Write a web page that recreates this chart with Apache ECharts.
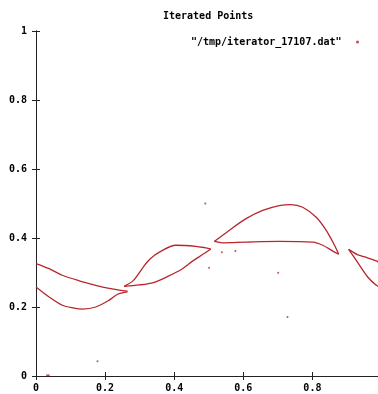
<!DOCTYPE html>
<html>
<head>
    <meta charset="utf-8">
    <title>Iterated Points</title>
    <script src="https://cdn.jsdelivr.net/npm/echarts@6.0.0/dist/echarts.min.js"></script>
    <style>
        html, body { margin: 0; padding: 0; width: 100%; height: 100%; background: #fff; }
        #chart { width: 378px; height: 394px; }
    </style>
</head>
<body>
    <div id="chart"></div>
    <script>
        // points, one array per visible branch
        const curveA = [[0, 0.326], [0.038, 0.311], [0.076, 0.292], [0.125, 0.276], [0.173, 0.263], [0.212, 0.254], [0.241, 0.249], [0.265, 0.246]];
        const curveB = [[0, 0.258], [0.038, 0.229], [0.076, 0.205], [0.110, 0.197], [0.134, 0.194], [0.173, 0.200], [0.212, 0.220], [0.236, 0.237], [0.265, 0.244]];
        const lensCUpper = [[0.255, 0.260], [0.280, 0.275], [0.296, 0.295], [0.312, 0.318], [0.330, 0.339], [0.357, 0.359], [0.405, 0.379], [0.463, 0.376], [0.488, 0.372], [0.506, 0.368]];
        const lensCLower = [[0.255, 0.260], [0.299, 0.264], [0.340, 0.271], [0.380, 0.288], [0.424, 0.311], [0.453, 0.333], [0.482, 0.352], [0.506, 0.368]];
        const lensDUpper = [[0.516, 0.390], [0.559, 0.422], [0.608, 0.456], [0.656, 0.480], [0.704, 0.494], [0.738, 0.497], [0.772, 0.489], [0.811, 0.460], [0.840, 0.422], [0.864, 0.379], [0.876, 0.353]];
        const lensDLower = [[0.516, 0.390], [0.540, 0.386], [0.608, 0.388], [0.704, 0.390], [0.801, 0.388], [0.830, 0.379], [0.859, 0.362], [0.876, 0.353]];
        const lensEUpper = [[0.905, 0.367], [0.930, 0.352], [0.956, 0.344], [0.988, 0.332], [1, 0.328]];
        const lensELower = [[0.905, 0.367], [0.927, 0.335], [0.960, 0.287], [0.985, 0.263], [1, 0.255]];
        const strayPoints = [[0.49, 0.50], [0.501, 0.314], [0.538, 0.359], [0.577, 0.362], [0.701, 0.299], [0.728, 0.171], [0.178, 0.043], [0.032, 0.002], [0.037, 0.002]];

        const seriesName = '"/tmp/iterator_17107.dat"';
        const red = '#b8262c';
        const font = 'DejaVu Sans Mono';

        const chart = echarts.init(document.getElementById('chart'), null, { renderer: 'canvas' });

        const branch = (data) => ({
            name: seriesName,
            type: 'line',
            smooth: 0.3,
            showSymbol: false,
            data: data,
            lineStyle: { color: red, width: 1.3 },
            itemStyle: { color: red },
            animation: false
        });

        const axisBase = {
            type: 'value',
            min: 0,
            max: 1,
            interval: 0.2,
            axisLine: { show: true, lineStyle: { color: '#222', width: 1 } },
            axisTick: { show: true, inside: true, length: 4, lineStyle: { color: '#222' } },
            splitLine: { show: false }
        };

        const fmt = (v) => (v === 0 ? '0' : v === 1 ? '1' : v.toFixed(1));

        chart.setOption({
            backgroundColor: '#fff',
            title: {
                text: 'Iterated Points',
                left: 158,
                top: 6,
                textStyle: { fontFamily: font, fontSize: 10, fontWeight: 'bold', color: '#000' }
            },
            legend: {
                data: [seriesName],
                left: 186,
                top: 32,
                align: 'right',
                icon: 'circle',
                itemWidth: 22,
                itemHeight: 3,
                textStyle: { fontFamily: font, fontSize: 10, fontWeight: 'bold', color: '#000' }
            },
            // plot box runs a few pixels past the right edge of the picture
            grid: { left: 36, top: 31, width: 345.5, height: 345, outerBoundsMode: 'none' },
            xAxis: [
                Object.assign({}, axisBase, {
                    position: 'bottom',
                    axisLabel: { margin: 7, fontFamily: font, fontSize: 10, fontWeight: 'bold', color: '#000', formatter: fmt }
                }),
                Object.assign({}, axisBase, { position: 'top', axisLabel: { show: false } })
            ],
            yAxis: [
                Object.assign({}, axisBase, {
                    position: 'left',
                    axisLabel: { margin: 9, fontFamily: font, fontSize: 10, fontWeight: 'bold', color: '#000', formatter: fmt }
                }),
                Object.assign({}, axisBase, { position: 'right', axisLabel: { show: false } })
            ],
            series: [
                {
                    name: seriesName,
                    type: 'scatter',
                    data: strayPoints,
                    symbol: 'circle',
                    symbolSize: 2,
                    itemStyle: { color: red },
                    animation: false
                },
                branch(curveA),
                branch(curveB),
                branch(lensCUpper),
                branch(lensCLower),
                branch(lensDUpper),
                branch(lensDLower),
                branch(lensEUpper),
                branch(lensELower)
            ]
        });
    </script>
</body>
</html>
